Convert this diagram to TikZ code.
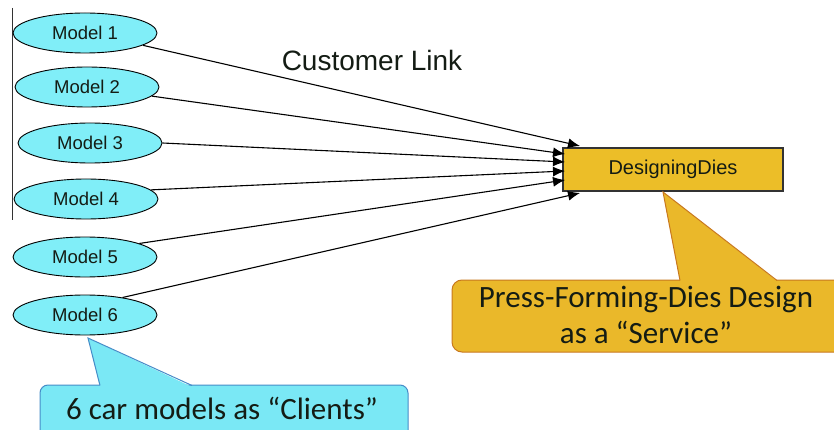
\documentclass[tikz,border=0pt]{standalone}
\usepackage{fontspec}
\setmainfont{Liberation Sans}
\newfontfamily\callfont{Carlito}
\usetikzlibrary{arrows.meta,shapes.geometric}
\definecolor{modelfill}{RGB}{128,238,248}
\definecolor{clientfill}{RGB}{122,232,245}
\definecolor{clientedge}{RGB}{70,140,200}
\definecolor{diefill}{RGB}{236,190,40}
\definecolor{svcfill}{RGB}{234,184,42}
\definecolor{svcedge}{RGB}{200,120,30}
\definecolor{ink}{RGB}{20,28,20}
\tikzset{
  model/.style={ellipse, draw=black, line width=0.9pt, fill=modelfill,
    minimum width=144pt, minimum height=40pt, inner sep=0pt, text=ink,
    font=\fontsize{18.5}{20}\selectfont},
  link/.style={draw=black, line width=1.1pt, -{Latex[length=12pt,width=10pt]}},
  diebox/.style={rectangle, draw=black!80, line width=1.2pt, fill=diefill,
    minimum width=220pt, minimum height=43pt, inner sep=0pt, text=ink,
    font=\fontsize{20}{22}\selectfont},
  bigtext/.style={font=\callfont\fontsize{31}{36}\selectfont, align=center,
    inner sep=0pt, text=ink}
}
\begin{document}
\begin{tikzpicture}[x=1pt,y=-1pt]
\useasboundingbox (0,0) rectangle (834,430);
\clip (0,0) rectangle (834,430);
\fill[white] (0,0) rectangle (834,430);

% left rule
\draw[line width=0.9pt, black!80] (12,8) -- (12,220);

% client models
\node[model] (m1) at (85,33)  {Model 1};
\node[model] (m2) at (87,87)  {Model 2};
\node[model] (m3) at (90,143) {Model 3};
\node[model] (m4) at (86,199) {Model 4};
\node[model] (m5) at (85,257) {Model 5};
\node[model] (m6) at (85,315) {Model 6};

% service box
\node[diebox] (dd) at (673,169.5) {DesigningDies};

% link targets on the service side
\coordinate (t1) at (580,146);
\coordinate (t2) at (565,154);
\coordinate (t3) at (565,162);
\coordinate (t4) at (565,171);
\coordinate (t5) at (565,180);
\coordinate (t6) at (580,193);

\draw[link] (m1.-12) -- (t1);
\draw[link] (m2.-8)  -- (t2);
\draw[link] (m3.east) -- (t3);
\draw[link] (m4.8)   -- (t4);
\draw[link] (m5.14)  -- (t5);
\draw[link] (m6.25)  -- (t6);

\node[font=\fontsize{28}{32}\selectfont, inner sep=0pt, text=ink] (cl) at (372,60) {Customer Link};

% client callout
\filldraw[fill=clientfill, draw=clientedge, line width=1pt, rounded corners=8pt]
  (40,450) -- (40,385) -- (408,385) -- (408,450) -- cycle;
\fill[clientfill] (88,338) -- (100,387) -- (192,387) -- cycle;
\draw[clientedge, line width=1pt] (100,385.5) -- (88,338) -- (192,385.5);
\node[bigtext] (clients) at (222,408) {6 car models as “Clients”};

% service callout
\filldraw[fill=svcfill, draw=svcedge, line width=1pt, rounded corners=10pt]
  (452,280) -- (850,280) -- (850,352) -- (452,352) -- cycle;
\fill[svcfill] (663,192) -- (680,281) -- (777,281) -- cycle;
\draw[svcedge, line width=1pt] (680,280.5) -- (663,192) -- (777,280.5);
\node[bigtext] (svc) at (646,315) {Press-Forming-Dies Design\\as a “Service”};
\end{tikzpicture}
\end{document}
